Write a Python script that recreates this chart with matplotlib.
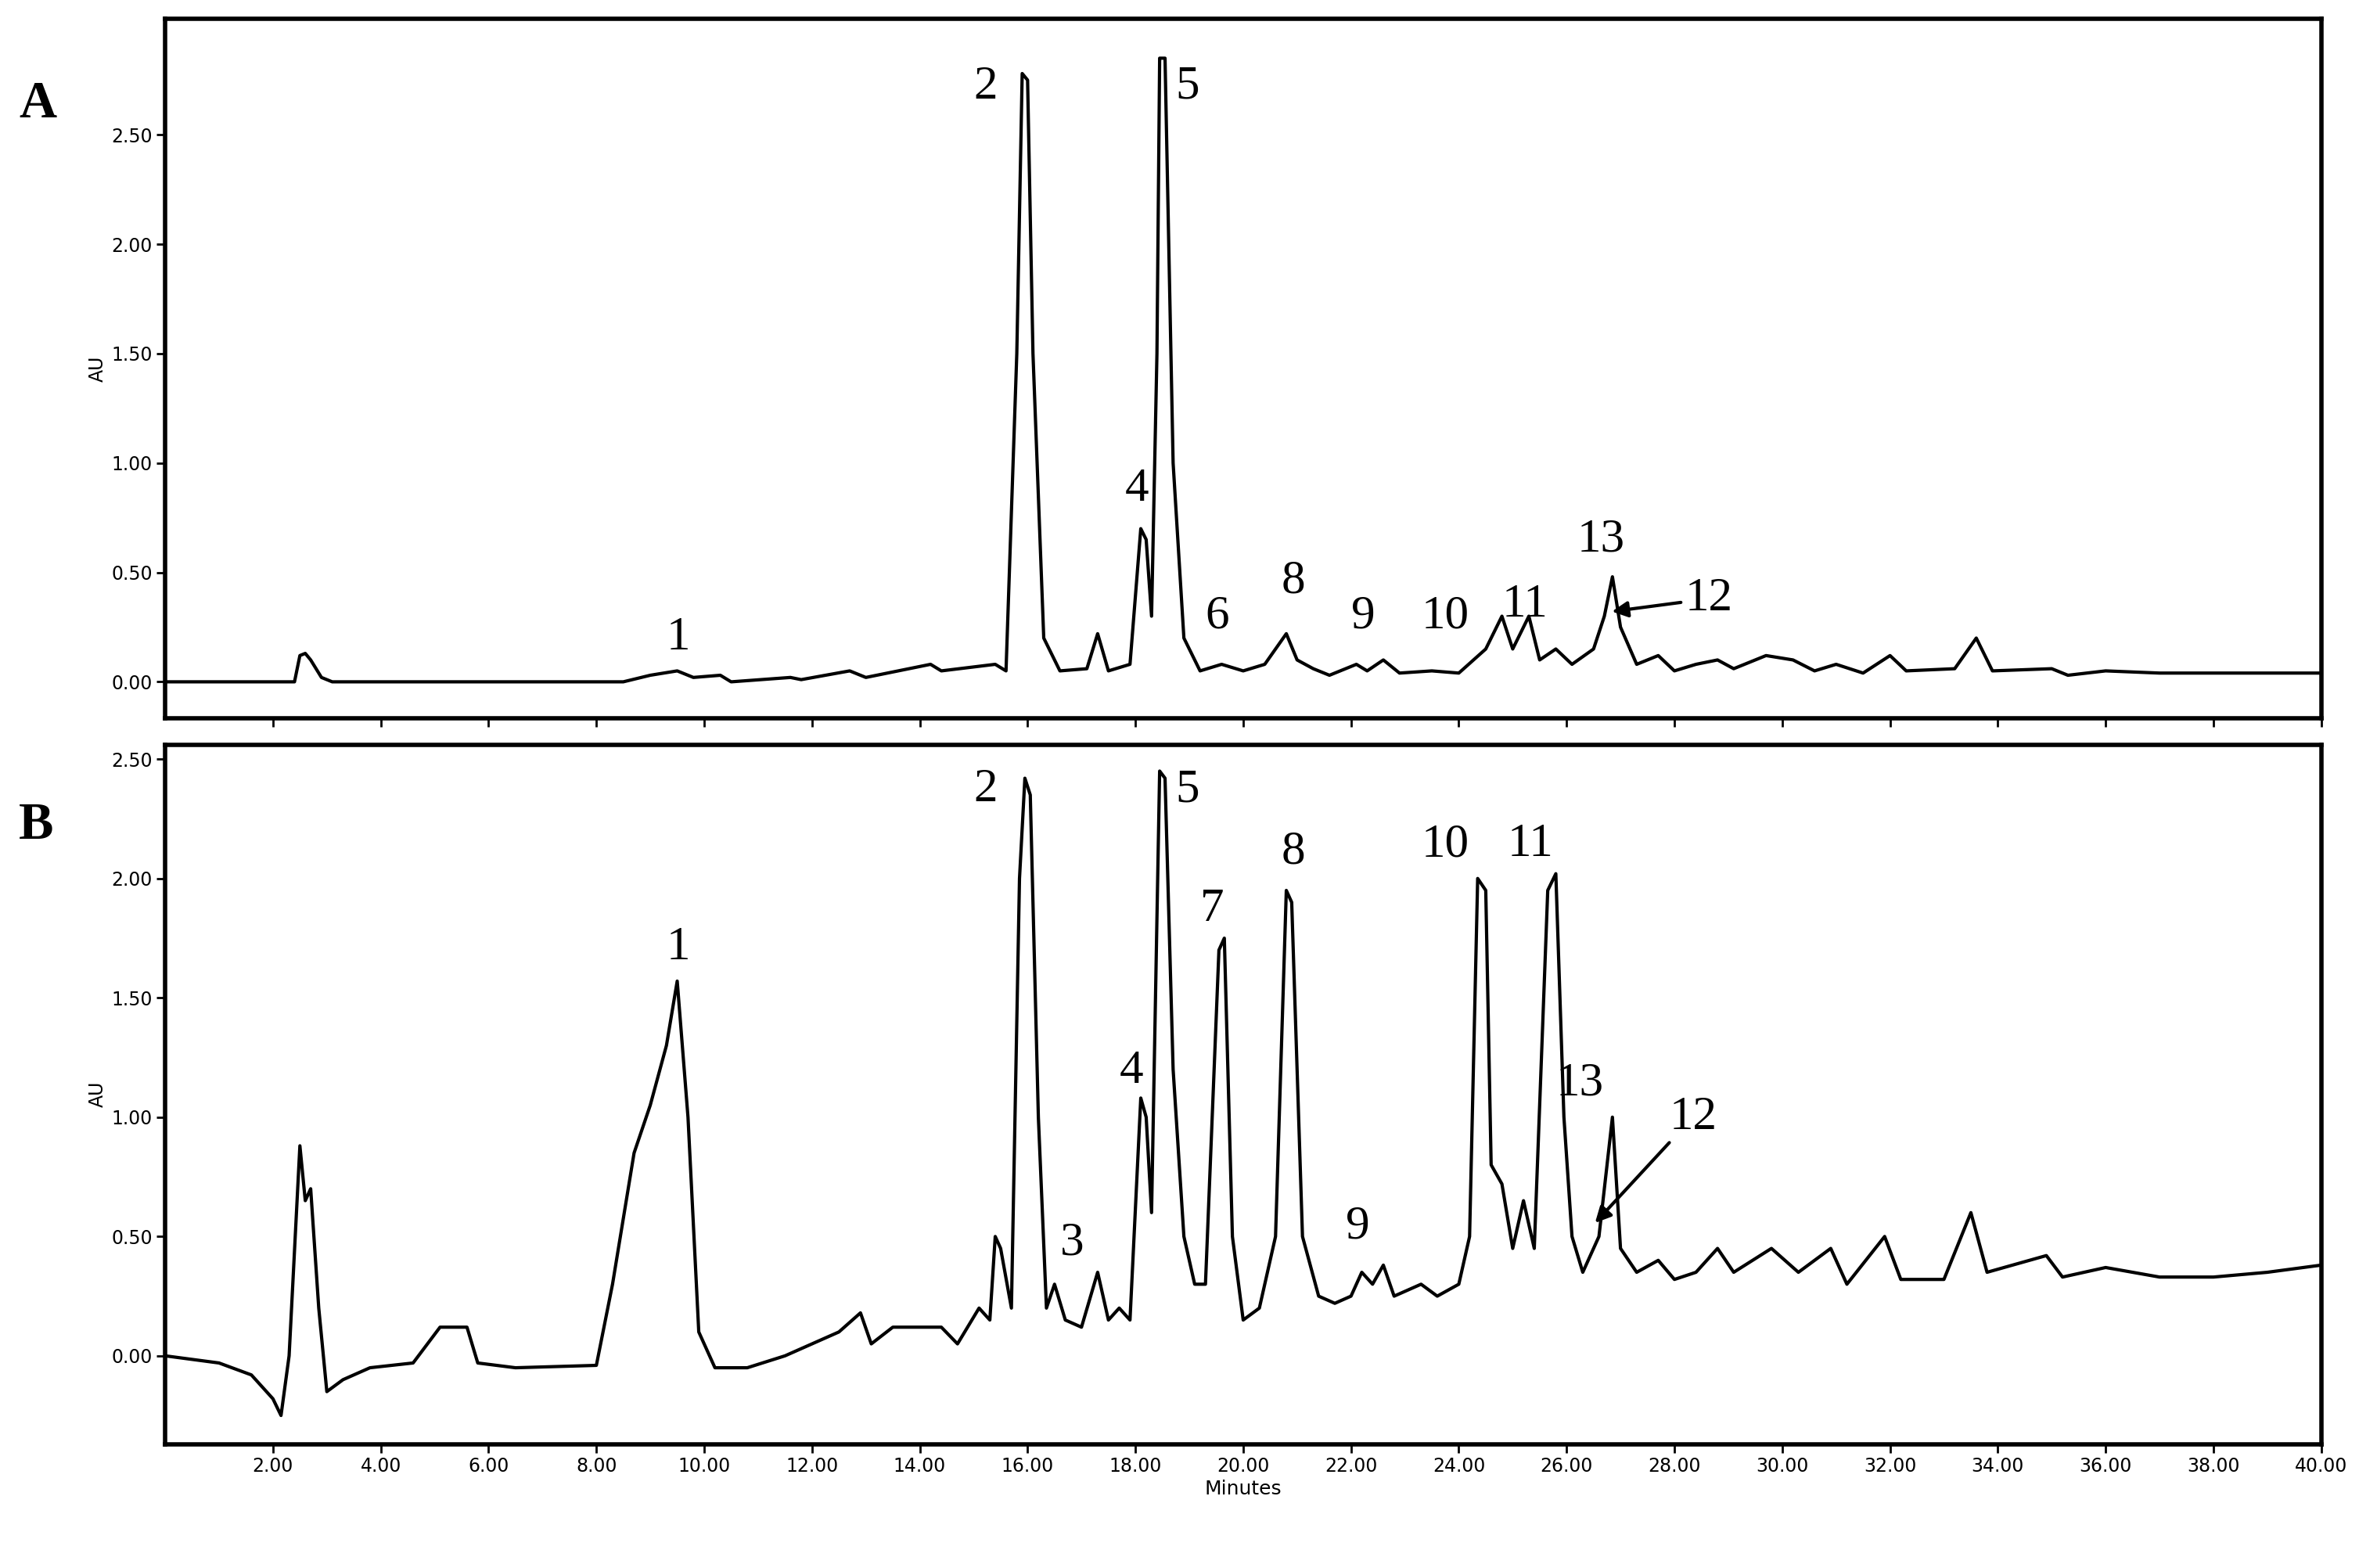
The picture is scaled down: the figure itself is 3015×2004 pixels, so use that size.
import matplotlib.pyplot as plt
import numpy as np

# chromatogram A (time in min, absorbance AU)
ta = [0, 2.4, 2.5, 2.6, 2.7, 2.9, 3.1, 8.5, 9.0, 9.5, 9.8, 10.3, 10.5, 11.6, 11.8, 12.7, 13.0,
      14.2, 14.4, 15.4, 15.6, 15.8, 15.9, 16.0, 16.1, 16.3, 16.6, 17.1, 17.3, 17.5, 17.9,
      18.1, 18.2, 18.3, 18.4, 18.45, 18.55, 18.7, 18.9, 19.2, 19.6, 20.0, 20.4, 20.8, 21.0,
      21.3, 21.6, 22.1, 22.3, 22.6, 22.9, 23.5, 24.0, 24.5, 24.8, 25.0, 25.3, 25.5, 25.8,
      26.1, 26.5, 26.7, 26.85, 27.0, 27.3, 27.7, 28.0, 28.4, 28.8, 29.1, 29.7, 30.2, 30.6,
      31.0, 31.5, 32.0, 32.3, 33.2, 33.6, 33.9, 35.0, 35.3, 36.0, 37.0, 40.0]
ya = [0, 0, 0.12, 0.13, 0.10, 0.02, 0, 0, 0.03, 0.05, 0.02, 0.03, 0, 0.02, 0.01, 0.05, 0.02,
      0.08, 0.05, 0.08, 0.05, 1.5, 2.78, 2.75, 1.5, 0.2, 0.05, 0.06, 0.22, 0.05, 0.08,
      0.70, 0.65, 0.30, 1.5, 2.85, 2.85, 1.0, 0.2, 0.05, 0.08, 0.05, 0.08, 0.22, 0.10,
      0.06, 0.03, 0.08, 0.05, 0.10, 0.04, 0.05, 0.04, 0.15, 0.30, 0.15, 0.30, 0.10, 0.15,
      0.08, 0.15, 0.30, 0.48, 0.25, 0.08, 0.12, 0.05, 0.08, 0.10, 0.06, 0.12, 0.10, 0.05,
      0.08, 0.04, 0.12, 0.05, 0.06, 0.20, 0.05, 0.06, 0.03, 0.05, 0.04, 0.04]

# chromatogram B
tb = [0, 1.0, 1.6, 2.0, 2.15, 2.3, 2.5, 2.6, 2.7, 2.85, 3.0, 3.3, 3.8, 4.6, 5.1, 5.4, 5.6, 5.8,
      6.5, 8.0, 8.3, 8.7, 9.0, 9.3, 9.5, 9.7, 9.9, 10.2, 10.8, 11.5, 12.0, 12.5, 12.9, 13.1,
      13.5, 14.0, 14.4, 14.7, 15.1, 15.3, 15.4, 15.5, 15.7, 15.85, 15.95, 16.05, 16.2, 16.35,
      16.5, 16.7, 17.0, 17.3, 17.5, 17.7, 17.9, 18.1, 18.2, 18.3, 18.45, 18.55, 18.7, 18.9,
      19.1, 19.3, 19.55, 19.65, 19.8, 20.0, 20.3, 20.6, 20.8, 20.9, 21.1, 21.4, 21.7, 22.0,
      22.2, 22.4, 22.6, 22.8, 23.3, 23.6, 24.0, 24.2, 24.35, 24.5, 24.6, 24.8, 25.0, 25.2,
      25.4, 25.65, 25.8, 25.95, 26.1, 26.3, 26.6, 26.85, 27.0, 27.3, 27.7, 28.0, 28.4, 28.8,
      29.1, 29.8, 30.3, 30.9, 31.2, 31.9, 32.2, 33.0, 33.5, 33.8, 34.9, 35.2, 36.0, 37.0,
      38.0, 39.0, 40.0]
yb = [0, -0.03, -0.08, -0.18, -0.25, 0.0, 0.88, 0.65, 0.70, 0.2, -0.15, -0.10, -0.05, -0.03,
      0.12, 0.12, 0.12, -0.03, -0.05, -0.04, 0.3, 0.85, 1.05, 1.3, 1.57, 1.0, 0.1, -0.05,
      -0.05, 0.0, 0.05, 0.1, 0.18, 0.05, 0.12, 0.12, 0.12, 0.05, 0.2, 0.15, 0.5, 0.45, 0.2,
      2.0, 2.42, 2.35, 1.0, 0.2, 0.3, 0.15, 0.12, 0.35, 0.15, 0.2, 0.15, 1.08, 1.0, 0.6,
      2.45, 2.42, 1.2, 0.5, 0.3, 0.3, 1.7, 1.75, 0.5, 0.15, 0.2, 0.5, 1.95, 1.9, 0.5, 0.25,
      0.22, 0.25, 0.35, 0.3, 0.38, 0.25, 0.3, 0.25, 0.3, 0.5, 2.0, 1.95, 0.8, 0.72, 0.45,
      0.65, 0.45, 1.95, 2.02, 1.0, 0.5, 0.35, 0.5, 1.0, 0.45, 0.35, 0.4, 0.32, 0.35, 0.45,
      0.35, 0.45, 0.35, 0.45, 0.3, 0.5, 0.32, 0.32, 0.6, 0.35, 0.42, 0.33, 0.37, 0.33,
      0.33, 0.35, 0.38]

# peak labels (text, x, y)
labels_a = [("1", 9.3, 0.1), ("2", 15.0, 2.62), ("4", 17.8, 0.78), ("5", 18.75, 2.62),
            ("6", 19.3, 0.2), ("8", 20.7, 0.36), ("9", 22.0, 0.2), ("10", 23.3, 0.2),
            ("11", 24.8, 0.25), ("13", 26.2, 0.55)]
labels_b = [("1", 9.3, 1.62), ("2", 15.0, 2.28), ("3", 16.6, 0.38), ("4", 17.7, 1.1),
            ("5", 18.75, 2.28), ("7", 19.2, 1.78), ("8", 20.7, 2.02), ("9", 21.9, 0.45),
            ("10", 23.3, 2.05), ("11", 24.9, 2.05), ("13", 25.8, 1.05)]
arrow_a = ("12", 28.2, 0.38, 26.8, 0.32)
arrow_b = ("12", 27.9, 1.0, 26.5, 0.55)

xticks = np.arange(2, 41, 2)
yticks = [0, 0.5, 1.0, 1.5, 2.0, 2.5]

fig = plt.figure(figsize=(30.15, 20.04), dpi=100)
axA = fig.add_axes([0.07, 0.542, 0.914, 0.446])
axB = fig.add_axes([0.07, 0.079, 0.914, 0.446])

serif = "Liberation Serif"
for ax, t, y, labs, arr, ylim in [(axA, ta, ya, labels_a, arrow_a, (-0.166, 3.03)),
                                  (axB, tb, yb, labels_b, arrow_b, (-0.37, 2.56))]:
    ax.plot(t, y, color="black", lw=3)
    ax.set_xlim(0, 40)
    ax.set_ylim(*ylim)
    ax.set_yticks(yticks)
    ax.set_yticklabels(["%.2f" % v for v in yticks], fontsize=17)
    ax.set_xticks(xticks)
    ax.set_ylabel("AU", fontsize=17)
    for s in ax.spines.values():
        s.set_linewidth(4)
    ax.tick_params(width=2, length=8)
    for txt, x, yy in labs:
        ax.text(x, yy, txt, fontsize=44, family=serif, ha="left", va="bottom")
    txt, x0, y0, x1, y1 = arr
    ax.annotate(txt, xy=(x1, y1), xytext=(x0, y0), fontsize=44, family=serif,
                va="center", arrowprops=dict(arrowstyle="-|>", color="black", lw=3,
                                             mutation_scale=30))

axA.set_xticklabels([])
axB.set_xticklabels(["%.2f" % v for v in xticks], fontsize=17)
axB.set_xlabel("Minutes", fontsize=18)

fig.text(0.008, 0.925, "A", fontsize=48, family=serif, weight="bold")
fig.text(0.008, 0.465, "B", fontsize=48, family=serif, weight="bold")

fig.savefig("out.png", dpi=100)
